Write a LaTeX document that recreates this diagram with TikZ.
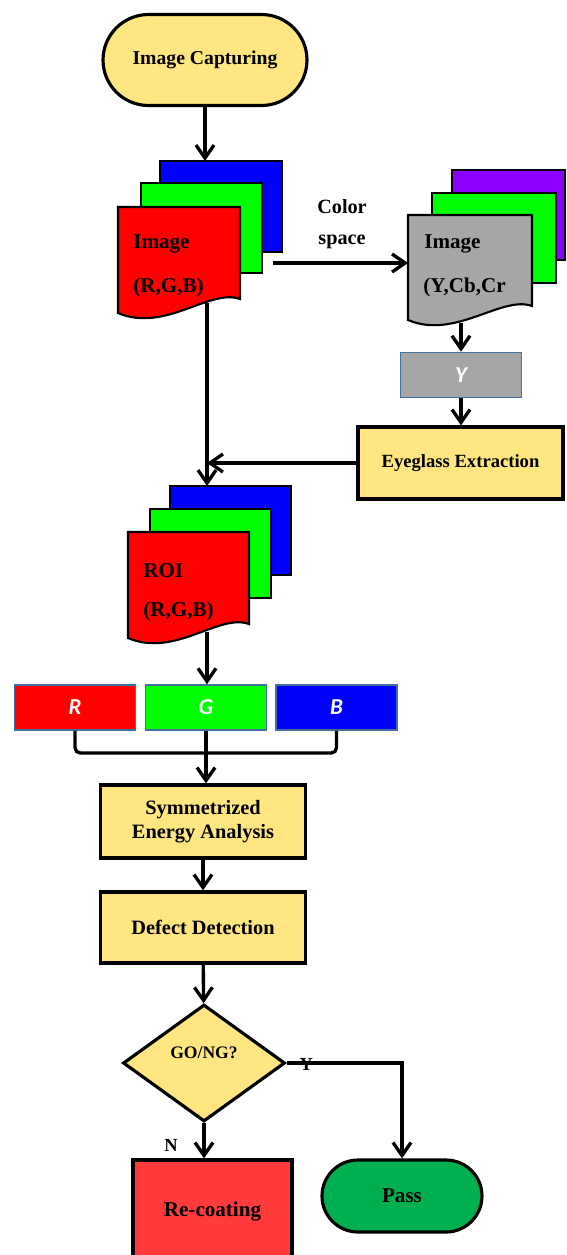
\documentclass[tikz,border=0pt]{standalone}
\usepackage{fontspec}
\setmainfont{Liberation Serif}
\newfontfamily\calfont{Carlito}
\usetikzlibrary{arrows.meta,shapes.geometric}

\definecolor{boxyellow}{RGB}{255,230,128}
\definecolor{chanred}{RGB}{255,0,0}
\definecolor{changreen}{RGB}{0,255,0}
\definecolor{chanblue}{RGB}{0,0,255}
\definecolor{chanpurple}{RGB}{140,0,255}
\definecolor{docgray}{RGB}{166,166,166}
\definecolor{chanedge}{RGB}{65,113,156}
\definecolor{recoatred}{RGB}{255,59,59}
\definecolor{passgreen}{RGB}{0,176,80}

\tikzset{
  flow/.style={draw,line width=1.8pt,fill=boxyellow,align=center,inner sep=0pt,
    font=\bfseries\fontsize{11.6}{14}\selectfont},
  chan/.style={draw=chanedge,line width=0.9pt,minimum width=2.42cm,minimum height=0.9cm,
    inner sep=0pt,text=white,font=\calfont\bfseries\itshape\fontsize{13}{15}\selectfont},
  sheet/.style={draw,line width=1.2pt},
  doctext/.style={anchor=west,inner sep=0pt,font=\bfseries\fontsize{12}{14}\selectfont},
  conn/.style={line width=1.9pt,-{Straight Barb[length=2.6mm,width=3.6mm]}},
  wire/.style={line width=1.9pt},
  tag/.style={inner sep=0pt,font=\bfseries\fontsize{10.5}{12}\selectfont},
}

% page with wavy bottom: left, top, right, bottom, colour
\newcommand{\docpage}[5]{%
  \draw[sheet,fill=#5] (#1,#2) -- (#3,#2) -- (#3,#4)
    .. controls +(-30,-11) and +(47,20) .. (#1,{#4+14}) -- cycle;}

\begin{document}
\begin{tikzpicture}[x=0.02cm,y=-0.02cm]
\useasboundingbox (0,0) rectangle (566,1255);

% Captura
\node[flow,minimum width=4.08cm,minimum height=1.82cm,rounded corners=0.91cm,
  font=\bfseries\fontsize{11.2}{14}\selectfont] (capture) at (205,60) {Image Capturing};

% RGB
\draw[sheet,fill=chanblue] (160,161) rectangle (282,252);
\draw[sheet,fill=changreen] (141,183) rectangle (262,273);
\docpage{118}{207}{240}{299}{chanred}
\node[doctext] (rgbname) at (133,244) {Image};
\node[doctext] (rgbsub) at (133,287) {(R,G,B)};
\coordinate (rgbtop) at (205,161);
\coordinate (rgbbot) at (207,303);
\coordinate (rgbout) at (273,263);

\node[font=\bfseries\fontsize{11.5}{17.5}\selectfont,align=center] (cspace) at (342,224) {Color\\space};

% YCbCr
\draw[sheet,fill=chanpurple] (452,170) rectangle (565,260);
\draw[sheet,fill=changreen] (432,193) rectangle (556,283);
\docpage{408}{215}{532}{306}{docgray}
\node[doctext] (yccname) at (424,244) {Image};
\node[doctext] (yccsub) at (423,287) {(Y,Cb,Cr};
\coordinate (yccin) at (408,263);
\coordinate (yccbot) at (461,323);

\node[chan,fill=docgray] (ych) at (461,375) {Y};
\node[flow,minimum width=4.1cm,minimum height=1.44cm,font=\bfseries\fontsize{10.6}{13}\selectfont] (eyeglass) at (460.5,463) {Eyeglass Extraction};
\coordinate (join) at (207,463);

% ROI
\draw[sheet,fill=chanblue] (170,486) rectangle (291,575);
\draw[sheet,fill=changreen] (150,509) rectangle (271,598);
\docpage{128}{532}{249}{624}{chanred}
\node[doctext] (roiname) at (143,571) {ROI};
\node[doctext] (roisub) at (143,611) {(R,G,B)};
\coordinate (roitop) at (207,486);
\coordinate (roibot) at (207,632);

% Canales
\node[chan,fill=chanred] (rch) at (75,707.5) {R};
\node[chan,fill=changreen] (gch) at (206,707.5) {G};
\node[chan,fill=chanblue] (bch) at (336.5,707.5) {B};
\coordinate (bus) at (206,753);

\node[flow,minimum width=4.1cm,minimum height=1.46cm] (energy) at (203,821.5) {Symmetrized\\Energy Analysis};
\node[flow,minimum width=4.1cm,minimum height=1.42cm] (defect) at (203,927.5) {Defect Detection};
\node[flow,diamond,minimum width=3.24cm,minimum height=2.34cm,text height=7pt,text depth=12pt,
  font=\bfseries\fontsize{10}{12}\selectfont] (gong) at (204,1063) {GO/NG?};
\node[flow,fill=recoatred,minimum width=3.18cm,minimum height=2.04cm,font=\bfseries\fontsize{12}{14}\selectfont] (recoat) at (212.5,1211) {Re-coating};
\node[flow,fill=passgreen,minimum width=3.2cm,minimum height=1.44cm,rounded corners=0.72cm,
  font=\bfseries\fontsize{12}{14}\selectfont] (pass) at (402,1196) {Pass};

% Flechas
\draw[conn] (capture) -- (rgbtop);
\draw[conn] (rgbout) -- (yccin);
\draw[conn] (yccbot) -- (yccbot |- ych.north);
\draw[conn] (ych.south) -- (ych.south |- eyeglass.north);
\draw[conn] (eyeglass.west) -- (join);
\draw[conn] (rgbbot) -- (roitop);
\draw[conn] (roibot) -- (roibot |- gch.north);
\draw[wire,rounded corners=3pt] (rch.south) |- (bus) -| (bch.south);
\draw[conn] (gch.south) -- (gch.south |- energy.north);
\draw[conn] (energy) -- (defect);
\draw[conn] (defect) -- (gong);
\draw[conn] (gong.south) -- (gong.south |- recoat.north) node[tag,pos=0.62,xshift=-0.66cm] (nolabel) {N};
\draw[conn] (gong.east) -| (pass.north) node[tag,pos=0.085,yshift=-1pt] (yeslabel) {Y};
\end{tikzpicture}
\end{document}
